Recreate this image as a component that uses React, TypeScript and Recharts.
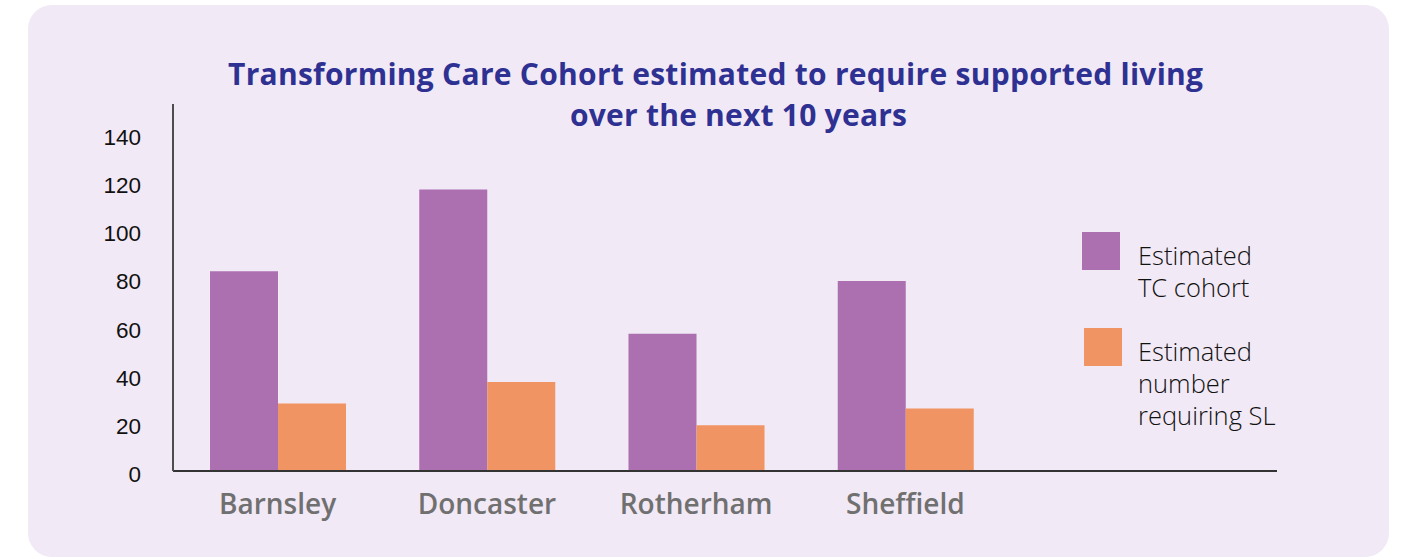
import { BarChart, Bar, XAxis, YAxis, Legend } from "recharts";

const AREAS = ["Barnsley", "Doncaster", "Rotherham", "Sheffield"];
const TC_COHORT = [83, 117, 57, 79];
const REQUIRING_SL = [28, 37, 19, 26];
const Y_TICKS = [0, 20, 40, 60, 80, 100, 120, 140];
const SERIES_NAMES = ["Estimated TC cohort", "Estimated number requiring SL"];
const LEGEND_LINES = [
  ["Estimated", "TC cohort"],
  ["Estimated", "number", "requiring SL"],
];
const TITLE_LINES = [
  "Transforming Care Cohort estimated to require supported living",
  "over the next 10 years",
];

const data = AREAS.map((area, i) => ({
  area,
  tc: TC_COHORT[i],
  sl: REQUIRING_SL[i],
}));

const PURPLE = "#AC6FB0";
const ORANGE = "#EF9462";
const NAVY = "#2E3192";

function YTick({ x, y, payload }: any) {
  return (
    <text
      x={x}
      y={y + 11}
      textAnchor="end"
      fontSize={22.5}
      fill="#111"
      fontFamily='"Liberation Sans", Arial, sans-serif'
    >
      {payload.value}
    </text>
  );
}

function XTick({ x, y, payload }: any) {
  return (
    <text
      x={x}
      y={y + 43}
      textAnchor="middle"
      fontSize={28}
      fontWeight={600}
      fill="#707070"
      fontFamily='"Open Sans", sans-serif'
    >
      {payload.value}
    </text>
  );
}

function LegendContent({ payload }: any) {
  const items = payload || [];
  return (
    <svg width={260} height={220} style={{ display: "block" }}>
      {items.map((item: any, i: number) => {
        const lines = LEGEND_LINES[SERIES_NAMES.indexOf(item.value)] || [item.value];
        const top = i * 96;
        return (
          <g key={item.value}>
            <rect x={i * 2} y={top} width={38} height={38} fill={item.color} />
            <text
              fontSize={25.5}
              fontWeight={300}
              fill="#111"
              fontFamily='"Open Sans", sans-serif'
            >
              {lines.map((line: string, j: number) => (
                <tspan key={line} x={56} y={top + 33 + j * 32}>
                  {line}
                </tspan>
              ))}
            </text>
          </g>
        );
      })}
    </svg>
  );
}

export default function App() {
  return (
    <div
      style={{
        position: "absolute",
        left: 0,
        top: 0,
        width: 1401,
        height: 560,
        background: "#ffffff",
        overflow: "hidden",
      }}
    >
      <div
        style={{
          position: "absolute",
          left: 28,
          top: 5,
          width: 1361,
          height: 552,
          background: "#F1E9F5",
          borderRadius: 24,
        }}
      />
      <div style={{ position: "absolute", left: 0, top: 0 }}>
        <BarChart
          width={1401}
          height={560}
          data={data}
          margin={{ top: 104, right: 124, bottom: 29, left: 0 }}
          barGap={0}
          barSize={68}
        >
          <XAxis
            dataKey="area"
            padding={{ left: 0, right: 267 }}
            height={60}
            axisLine={{ stroke: "#333", strokeWidth: 2 }}
            tickLine={false}
            tickSize={0}
            tickMargin={0}
            interval={0}
            tick={XTick}
          />
          <YAxis
            width={173}
            domain={[0, 152.5]}
            ticks={Y_TICKS}
            interval={0}
            allowDataOverflow
            axisLine={{ stroke: "#4d4d4d", strokeWidth: 2 }}
            tickLine={false}
            tickSize={0}
            tickMargin={32}
            tick={YTick}
          />
          <Legend
            layout="vertical"
            align="center"
            verticalAlign="middle"
            content={<LegendContent />}
            wrapperStyle={{ left: 1082, top: 232, width: 260, height: 220 }}
          />
          <Bar dataKey="tc" name={SERIES_NAMES[0]} fill={PURPLE} isAnimationActive={false} />
          <Bar dataKey="sl" name={SERIES_NAMES[1]} fill={ORANGE} isAnimationActive={false} />
        </BarChart>
      </div>
      <svg
        width={1401}
        height={140}
        style={{ position: "absolute", left: 0, top: 0, pointerEvents: "none" }}
      >
        <text
          x={715.5}
          y={85}
          textAnchor="middle"
          fontSize={30}
          fontWeight={700}
          fill={NAVY}
          fontFamily='"Open Sans", sans-serif'
          textLength={975}
          lengthAdjust="spacing"
        >
          {TITLE_LINES[0]}
        </text>
        <text
          x={738.5}
          y={126}
          textAnchor="middle"
          fontSize={30}
          fontWeight={700}
          fill={NAVY}
          fontFamily='"Open Sans", sans-serif'
          textLength={337}
          lengthAdjust="spacing"
        >
          {TITLE_LINES[1]}
        </text>
      </svg>
    </div>
  );
}
